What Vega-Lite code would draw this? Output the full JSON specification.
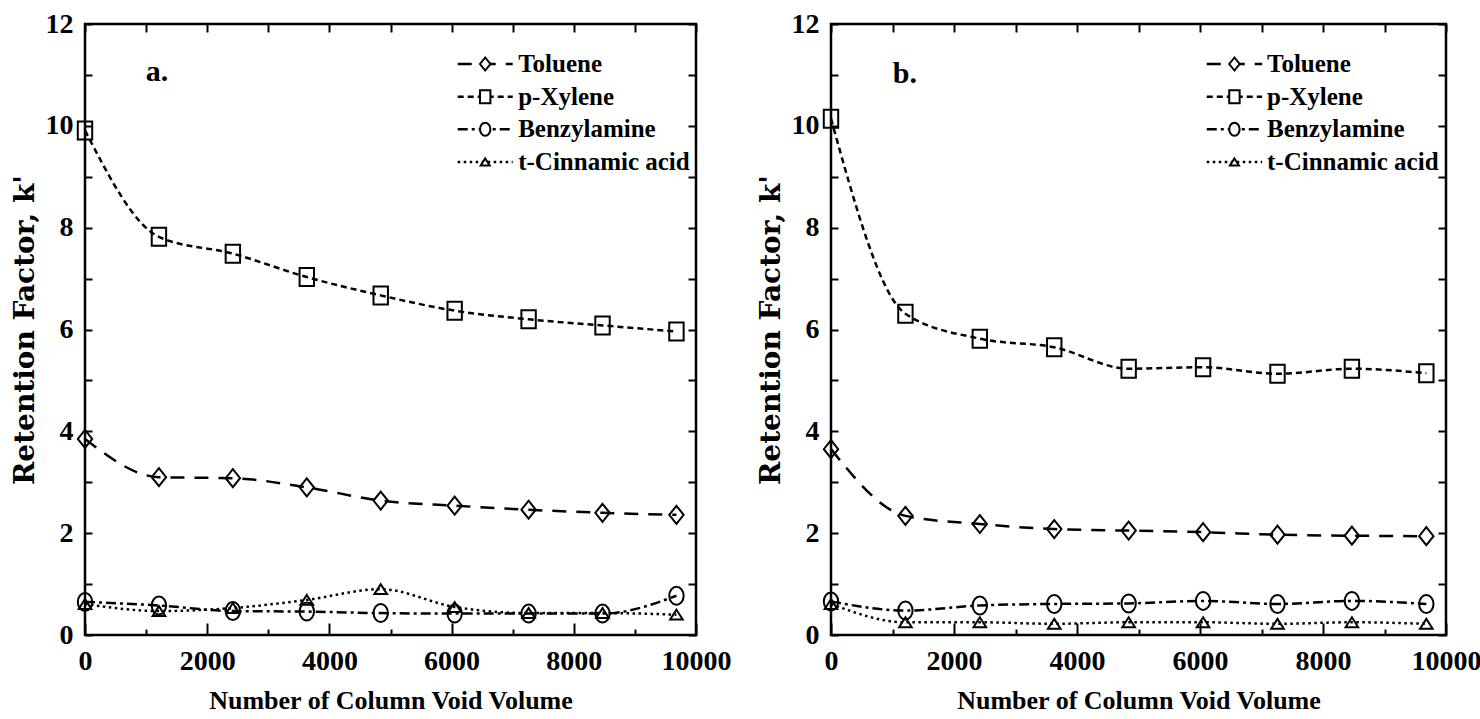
{
  "$schema": "https://vega.github.io/schema/vega-lite/v6.json",
  "background": "white",
  "padding": {"left": 9, "top": 8, "right": 4, "bottom": 4},
  "config": {
    "view": {"stroke": "black", "strokeWidth": 2.5},
    "axis": {"domain": false, "grid": false, "tickColor": "black", "tickWidth": 2, "labelFont": "Liberation Serif", "labelFontWeight": "bold", "labelFontSize": 28, "labelColor": "black", "titleColor": "black", "format": "d"}
  },
  "datasets": {
    "legend": [
      {"compound": "Toluene"},
      {"compound": "p-Xylene"},
      {"compound": "Benzylamine"},
      {"compound": "t-Cinnamic acid"}
    ]
  },
  "data": {"values": [
    {"panel": "a", "compound": "Toluene", "volume": 0, "k": 3.85},
    {"panel": "a", "compound": "Toluene", "volume": 1210, "k": 3.10},
    {"panel": "a", "compound": "Toluene", "volume": 2420, "k": 3.08},
    {"panel": "a", "compound": "Toluene", "volume": 3630, "k": 2.90},
    {"panel": "a", "compound": "Toluene", "volume": 4840, "k": 2.64},
    {"panel": "a", "compound": "Toluene", "volume": 6050, "k": 2.54},
    {"panel": "a", "compound": "Toluene", "volume": 7260, "k": 2.46},
    {"panel": "a", "compound": "Toluene", "volume": 8470, "k": 2.40},
    {"panel": "a", "compound": "Toluene", "volume": 9680, "k": 2.36},
    {"panel": "a", "compound": "p-Xylene", "volume": 0, "k": 9.91},
    {"panel": "a", "compound": "p-Xylene", "volume": 1210, "k": 7.82},
    {"panel": "a", "compound": "p-Xylene", "volume": 2420, "k": 7.49},
    {"panel": "a", "compound": "p-Xylene", "volume": 3630, "k": 7.03},
    {"panel": "a", "compound": "p-Xylene", "volume": 4840, "k": 6.67},
    {"panel": "a", "compound": "p-Xylene", "volume": 6050, "k": 6.37},
    {"panel": "a", "compound": "p-Xylene", "volume": 7260, "k": 6.20},
    {"panel": "a", "compound": "p-Xylene", "volume": 8470, "k": 6.08},
    {"panel": "a", "compound": "p-Xylene", "volume": 9680, "k": 5.96},
    {"panel": "a", "compound": "Benzylamine", "volume": 0, "k": 0.65},
    {"panel": "a", "compound": "Benzylamine", "volume": 1210, "k": 0.58},
    {"panel": "a", "compound": "Benzylamine", "volume": 2420, "k": 0.47},
    {"panel": "a", "compound": "Benzylamine", "volume": 3630, "k": 0.46},
    {"panel": "a", "compound": "Benzylamine", "volume": 4840, "k": 0.43},
    {"panel": "a", "compound": "Benzylamine", "volume": 6050, "k": 0.42},
    {"panel": "a", "compound": "Benzylamine", "volume": 7260, "k": 0.42},
    {"panel": "a", "compound": "Benzylamine", "volume": 8470, "k": 0.42},
    {"panel": "a", "compound": "Benzylamine", "volume": 9680, "k": 0.77},
    {"panel": "a", "compound": "t-Cinnamic acid", "volume": 0, "k": 0.61},
    {"panel": "a", "compound": "t-Cinnamic acid", "volume": 1210, "k": 0.47},
    {"panel": "a", "compound": "t-Cinnamic acid", "volume": 2420, "k": 0.53},
    {"panel": "a", "compound": "t-Cinnamic acid", "volume": 3630, "k": 0.69},
    {"panel": "a", "compound": "t-Cinnamic acid", "volume": 4840, "k": 0.90},
    {"panel": "a", "compound": "t-Cinnamic acid", "volume": 6050, "k": 0.55},
    {"panel": "a", "compound": "t-Cinnamic acid", "volume": 7260, "k": 0.43},
    {"panel": "a", "compound": "t-Cinnamic acid", "volume": 8470, "k": 0.43},
    {"panel": "a", "compound": "t-Cinnamic acid", "volume": 9680, "k": 0.40},
    {"panel": "b", "compound": "Toluene", "volume": 0, "k": 3.65},
    {"panel": "b", "compound": "Toluene", "volume": 1210, "k": 2.34},
    {"panel": "b", "compound": "Toluene", "volume": 2420, "k": 2.18},
    {"panel": "b", "compound": "Toluene", "volume": 3630, "k": 2.08},
    {"panel": "b", "compound": "Toluene", "volume": 4840, "k": 2.05},
    {"panel": "b", "compound": "Toluene", "volume": 6050, "k": 2.02},
    {"panel": "b", "compound": "Toluene", "volume": 7260, "k": 1.97},
    {"panel": "b", "compound": "Toluene", "volume": 8470, "k": 1.95},
    {"panel": "b", "compound": "Toluene", "volume": 9680, "k": 1.94},
    {"panel": "b", "compound": "p-Xylene", "volume": 0, "k": 10.14},
    {"panel": "b", "compound": "p-Xylene", "volume": 1210, "k": 6.31},
    {"panel": "b", "compound": "p-Xylene", "volume": 2420, "k": 5.82},
    {"panel": "b", "compound": "p-Xylene", "volume": 3630, "k": 5.65},
    {"panel": "b", "compound": "p-Xylene", "volume": 4840, "k": 5.23},
    {"panel": "b", "compound": "p-Xylene", "volume": 6050, "k": 5.26},
    {"panel": "b", "compound": "p-Xylene", "volume": 7260, "k": 5.13},
    {"panel": "b", "compound": "p-Xylene", "volume": 8470, "k": 5.23},
    {"panel": "b", "compound": "p-Xylene", "volume": 9680, "k": 5.14},
    {"panel": "b", "compound": "Benzylamine", "volume": 0, "k": 0.66},
    {"panel": "b", "compound": "Benzylamine", "volume": 1210, "k": 0.48},
    {"panel": "b", "compound": "Benzylamine", "volume": 2420, "k": 0.58},
    {"panel": "b", "compound": "Benzylamine", "volume": 3630, "k": 0.61},
    {"panel": "b", "compound": "Benzylamine", "volume": 4840, "k": 0.62},
    {"panel": "b", "compound": "Benzylamine", "volume": 6050, "k": 0.67},
    {"panel": "b", "compound": "Benzylamine", "volume": 7260, "k": 0.61},
    {"panel": "b", "compound": "Benzylamine", "volume": 8470, "k": 0.67},
    {"panel": "b", "compound": "Benzylamine", "volume": 9680, "k": 0.61},
    {"panel": "b", "compound": "t-Cinnamic acid", "volume": 0, "k": 0.61},
    {"panel": "b", "compound": "t-Cinnamic acid", "volume": 1210, "k": 0.25},
    {"panel": "b", "compound": "t-Cinnamic acid", "volume": 2420, "k": 0.25},
    {"panel": "b", "compound": "t-Cinnamic acid", "volume": 3630, "k": 0.22},
    {"panel": "b", "compound": "t-Cinnamic acid", "volume": 4840, "k": 0.25},
    {"panel": "b", "compound": "t-Cinnamic acid", "volume": 6050, "k": 0.25},
    {"panel": "b", "compound": "t-Cinnamic acid", "volume": 7260, "k": 0.22},
    {"panel": "b", "compound": "t-Cinnamic acid", "volume": 8470, "k": 0.25},
    {"panel": "b", "compound": "t-Cinnamic acid", "volume": 9680, "k": 0.22}
  ]},
  "bounds": "flush",
  "spacing": 135,
  "resolve": {"scale": {"x": "independent", "y": "independent"}},
  "hconcat": [
    {
      "width": 611, "height": 611,
      "layer": [
        {
          "transform": [{"filter": "datum.panel === 'a'"}],
          "mark": {"type": "line", "interpolate": "monotone", "strokeWidth": 2.5, "color": "black"},
          "encoding": {
            "x": {"field": "volume", "type": "quantitative", "scale": {"domain": [0, 10000], "nice": false, "zero": false},
              "axis": {"orient": "bottom", "values": [0, 2000, 4000, 6000, 8000, 10000], "tickSize": -12, "labelPadding": 24, "labelFlush": false, "title": "Number of Column Void Volume", "titleFont": "Liberation Serif", "titleFontWeight": "bold", "titleFontSize": 26, "titlePadding": 12}},
            "y": {"field": "k", "type": "quantitative", "scale": {"domain": [0, 12], "nice": false},
              "axis": {"orient": "left", "values": [0, 2, 4, 6, 8, 10, 12], "tickSize": -7, "labelPadding": 19, "labelFlush": false, "title": "Retention Factor, k'", "titleFont": "DejaVu Serif", "titleFontWeight": "bold", "titleFontSize": 28, "titlePadding": 6}},
            "strokeDash": {"field": "compound", "type": "nominal", "scale": {"domain": ["Toluene", "p-Xylene", "Benzylamine", "t-Cinnamic acid"], "range": [[14, 10], [6, 4], [10, 4, 3, 4], [2.5, 3.5]]}, "legend": null}
          }
        },
        {
          "transform": [{"filter": "datum.panel === 'a'"}],
          "mark": {"type": "point", "filled": false, "stroke": "black", "strokeWidth": 2, "size": 324, "opacity": 1},
          "encoding": {
            "x": {"field": "volume", "type": "quantitative", "scale": {"domain": [0, 10000], "nice": false},
              "axis": {"orient": "top", "values": [0, 1000, 2000, 3000, 4000, 5000, 6000, 7000, 8000, 9000, 10000], "tickSize": -8, "labels": false, "title": null}},
            "y": {"field": "k", "type": "quantitative", "scale": {"domain": [0, 12], "nice": false},
              "axis": {"orient": "right", "values": [0, 1, 2, 3, 4, 5, 6, 7, 8, 9, 10, 11, 12], "tickSize": -8, "labels": false, "title": null}},
            "shape": {"field": "compound", "type": "nominal",
              "scale": {"domain": ["Toluene", "p-Xylene", "Benzylamine", "t-Cinnamic acid"], "range": ["M0,-1L0.8,0L0,1L-0.8,0Z", "M-0.8,-1L0.8,-1L0.8,1L-0.8,1Z", "M0,-1C0.44,-1 0.8,-0.55 0.8,0C0.8,0.55 0.44,1 0,1C-0.44,1 -0.8,0.55 -0.8,0C-0.8,-0.55 -0.44,-1 0,-1Z", "M0,-0.55L0.7,0.55L-0.7,0.55Z"]},
              "legend": null}
          }
        },
        {
          "data": {"values": [{"label": "a."}]},
          "mark": {"type": "text", "font": "Liberation Serif", "fontWeight": "bold", "fontSize": 30, "align": "center", "baseline": "middle", "color": "black"},
          "encoding": {
            "x": {"datum": 1180, "type": "quantitative", "scale": {"domain": [0, 10000], "nice": false},
              "axis": {"orient": "bottom", "values": [1000, 3000, 5000, 7000, 9000], "tickSize": -6, "labels": false, "title": null}},
            "y": {"datum": 11.06, "type": "quantitative", "scale": {"domain": [0, 12], "nice": false},
              "axis": {"orient": "left", "values": [1, 3, 5, 7, 9, 11], "tickSize": -7, "labels": false, "title": null}},
            "text": {"field": "label"}
          }
        },
        {
          "data": {"name": "legend"},
          "mark": {"type": "rule", "strokeWidth": 2.5, "color": "black"},
          "encoding": {
            "x": {"datum": 6100, "type": "quantitative", "scale": {"domain": [0, 10000], "nice": false}, "axis": null},
            "x2": {"datum": 7000},
            "y": {"field": "compound", "type": "nominal", "scale": {"type": "point", "domain": ["Toluene", "p-Xylene", "Benzylamine", "t-Cinnamic acid"], "range": [40, 138], "padding": 0}, "axis": null},
            "strokeDash": {"field": "compound", "type": "nominal", "legend": null}
          }
        },
        {
          "data": {"name": "legend"},
          "mark": {"type": "point", "filled": true, "fill": "white", "stroke": "black", "strokeWidth": 2, "size": 169, "opacity": 1},
          "encoding": {
            "x": {"datum": 6550, "type": "quantitative", "scale": {"domain": [0, 10000], "nice": false}, "axis": null},
            "y": {"field": "compound", "type": "nominal", "scale": {"type": "point", "domain": ["Toluene", "p-Xylene", "Benzylamine", "t-Cinnamic acid"], "range": [40, 138], "padding": 0}, "axis": null},
            "shape": {"field": "compound", "type": "nominal", "legend": null}
          }
        },
        {
          "data": {"name": "legend"},
          "mark": {"type": "text", "font": "Liberation Serif", "fontWeight": "bold", "fontSize": 25, "align": "left", "baseline": "middle", "color": "black"},
          "encoding": {
            "x": {"datum": 7090, "type": "quantitative", "scale": {"domain": [0, 10000], "nice": false}, "axis": null},
            "y": {"field": "compound", "type": "nominal", "scale": {"type": "point", "domain": ["Toluene", "p-Xylene", "Benzylamine", "t-Cinnamic acid"], "range": [40, 138], "padding": 0}, "axis": null},
            "text": {"field": "compound"}
          }
        }
      ],
      "resolve": {"scale": {"y": "independent"}, "axis": {"x": "independent", "y": "independent"}}
    },
    {
      "width": 615, "height": 611,
      "layer": [
        {
          "transform": [{"filter": "datum.panel === 'b'"}],
          "mark": {"type": "line", "interpolate": "monotone", "strokeWidth": 2.5, "color": "black"},
          "encoding": {
            "x": {"field": "volume", "type": "quantitative", "scale": {"domain": [0, 10000], "nice": false, "zero": false},
              "axis": {"orient": "bottom", "values": [0, 2000, 4000, 6000, 8000, 10000], "tickSize": -12, "labelPadding": 24, "labelFlush": false, "title": "Number of Column Void Volume", "titleFont": "Liberation Serif", "titleFontWeight": "bold", "titleFontSize": 26, "titlePadding": 12}},
            "y": {"field": "k", "type": "quantitative", "scale": {"domain": [0, 12], "nice": false},
              "axis": {"orient": "left", "values": [0, 2, 4, 6, 8, 10, 12], "tickSize": -7, "labelPadding": 19, "labelFlush": false, "title": "Retention Factor, k'", "titleFont": "DejaVu Serif", "titleFontWeight": "bold", "titleFontSize": 28, "titlePadding": 6}},
            "strokeDash": {"field": "compound", "type": "nominal", "scale": {"domain": ["Toluene", "p-Xylene", "Benzylamine", "t-Cinnamic acid"], "range": [[14, 10], [6, 4], [10, 4, 3, 4], [2.5, 3.5]]}, "legend": null}
          }
        },
        {
          "transform": [{"filter": "datum.panel === 'b'"}],
          "mark": {"type": "point", "filled": false, "stroke": "black", "strokeWidth": 2, "size": 324, "opacity": 1},
          "encoding": {
            "x": {"field": "volume", "type": "quantitative", "scale": {"domain": [0, 10000], "nice": false},
              "axis": {"orient": "top", "values": [0, 1000, 2000, 3000, 4000, 5000, 6000, 7000, 8000, 9000, 10000], "tickSize": -8, "labels": false, "title": null}},
            "y": {"field": "k", "type": "quantitative", "scale": {"domain": [0, 12], "nice": false},
              "axis": {"orient": "right", "values": [0, 1, 2, 3, 4, 5, 6, 7, 8, 9, 10, 11, 12], "tickSize": -8, "labels": false, "title": null}},
            "shape": {"field": "compound", "type": "nominal",
              "scale": {"domain": ["Toluene", "p-Xylene", "Benzylamine", "t-Cinnamic acid"], "range": ["M0,-1L0.8,0L0,1L-0.8,0Z", "M-0.8,-1L0.8,-1L0.8,1L-0.8,1Z", "M0,-1C0.44,-1 0.8,-0.55 0.8,0C0.8,0.55 0.44,1 0,1C-0.44,1 -0.8,0.55 -0.8,0C-0.8,-0.55 -0.44,-1 0,-1Z", "M0,-0.55L0.7,0.55L-0.7,0.55Z"]},
              "legend": null}
          }
        },
        {
          "data": {"values": [{"label": "b."}]},
          "mark": {"type": "text", "font": "Liberation Serif", "fontWeight": "bold", "fontSize": 30, "align": "center", "baseline": "middle", "color": "black"},
          "encoding": {
            "x": {"datum": 1200, "type": "quantitative", "scale": {"domain": [0, 10000], "nice": false},
              "axis": {"orient": "bottom", "values": [1000, 3000, 5000, 7000, 9000], "tickSize": -6, "labels": false, "title": null}},
            "y": {"datum": 11.02, "type": "quantitative", "scale": {"domain": [0, 12], "nice": false},
              "axis": {"orient": "left", "values": [1, 3, 5, 7, 9, 11], "tickSize": -7, "labels": false, "title": null}},
            "text": {"field": "label"}
          }
        },
        {
          "data": {"name": "legend"},
          "mark": {"type": "rule", "strokeWidth": 2.5, "color": "black"},
          "encoding": {
            "x": {"datum": 6110, "type": "quantitative", "scale": {"domain": [0, 10000], "nice": false}, "axis": null},
            "x2": {"datum": 7010},
            "y": {"field": "compound", "type": "nominal", "scale": {"type": "point", "domain": ["Toluene", "p-Xylene", "Benzylamine", "t-Cinnamic acid"], "range": [40, 138], "padding": 0}, "axis": null},
            "strokeDash": {"field": "compound", "type": "nominal", "legend": null}
          }
        },
        {
          "data": {"name": "legend"},
          "mark": {"type": "point", "filled": true, "fill": "white", "stroke": "black", "strokeWidth": 2, "size": 169, "opacity": 1},
          "encoding": {
            "x": {"datum": 6560, "type": "quantitative", "scale": {"domain": [0, 10000], "nice": false}, "axis": null},
            "y": {"field": "compound", "type": "nominal", "scale": {"type": "point", "domain": ["Toluene", "p-Xylene", "Benzylamine", "t-Cinnamic acid"], "range": [40, 138], "padding": 0}, "axis": null},
            "shape": {"field": "compound", "type": "nominal", "legend": null}
          }
        },
        {
          "data": {"name": "legend"},
          "mark": {"type": "text", "font": "Liberation Serif", "fontWeight": "bold", "fontSize": 25, "align": "left", "baseline": "middle", "color": "black"},
          "encoding": {
            "x": {"datum": 7090, "type": "quantitative", "scale": {"domain": [0, 10000], "nice": false}, "axis": null},
            "y": {"field": "compound", "type": "nominal", "scale": {"type": "point", "domain": ["Toluene", "p-Xylene", "Benzylamine", "t-Cinnamic acid"], "range": [40, 138], "padding": 0}, "axis": null},
            "text": {"field": "compound"}
          }
        }
      ],
      "resolve": {"scale": {"y": "independent"}, "axis": {"x": "independent", "y": "independent"}}
    }
  ]
}
